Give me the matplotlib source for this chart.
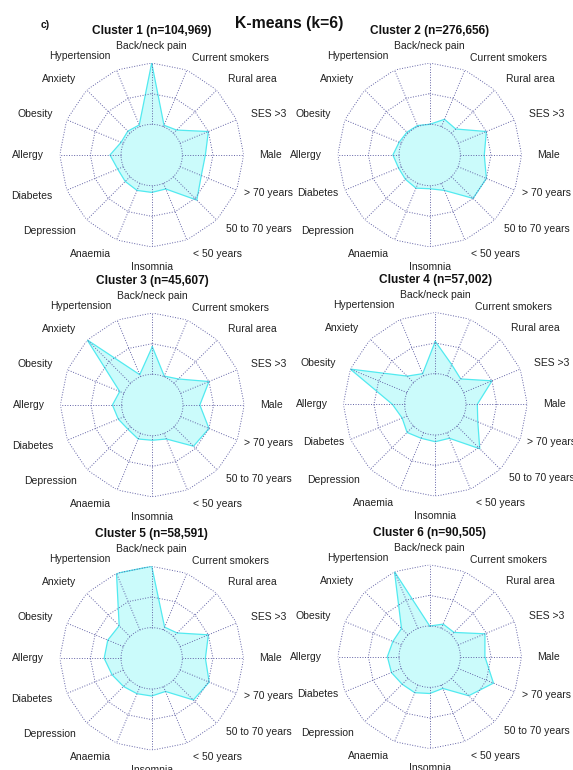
import numpy as np
import matplotlib
matplotlib.use("Agg")
import matplotlib.pyplot as plt

plt.rcParams['font.family'] = ['Liberation Sans', 'DejaVu Sans']

categories = ["Back/neck pain", "Current smokers", "Rural area", "SES >3", "Male",
              "> 70 years", "50 to 70 years", "< 50 years", "Insomnia", "Anaemia",
              "Depression", "Diabetes", "Allergy", "Obesity", "Anxiety", "Hypertension"]

cluster_titles = ["Cluster 1 (n=104,969)", "Cluster 2 (n=276,656)", "Cluster 3 (n=45,607)",
                  "Cluster 4 (n=57,002)", "Cluster 5 (n=58,591)", "Cluster 6 (n=90,505)"]

cluster1 = [3.0, 1.05, 1.15, 2.0, 1.75, 1.75, 2.08, 1.2, 1.22, 1.25, 1.22, 1.2, 1.36, 1.08, 1.1, 1.06]
cluster2 = [1.0, 1.26, 1.2, 2.0, 1.78, 2.0, 2.0, 1.25, 1.1, 1.17, 1.12, 1.1, 1.2, 1.08, 1.05, 1.04]
cluster3 = [1.9, 1.02, 1.2, 2.0, 1.55, 2.0, 1.9, 1.2, 1.15, 1.2, 1.12, 1.2, 1.3, 1.15, 3.0, 1.07]
cluster4 = [2.05, 1.4, 1.17, 2.0, 1.37, 1.5, 2.05, 1.2, 1.22, 1.2, 1.3, 1.17, 1.4, 3.0, 1.3, 1.08]
cluster5 = [3.0, 1.1, 1.17, 2.0, 1.75, 2.03, 1.92, 1.17, 1.23, 1.25, 1.3, 1.4, 1.55, 1.55, 1.5, 3.0]
cluster6 = [1.0, 1.15, 1.12, 1.95, 1.8, 2.25, 1.8, 1.12, 1.2, 1.27, 1.27, 1.35, 1.38, 1.3, 1.3, 3.0]
clusters = [cluster1, cluster2, cluster3, cluster4, cluster5, cluster6]

W, H = 573, 770
fig = plt.figure(figsize=(W / 100, H / 100), dpi=100)

# centres (px from top-left) and outer radius in px
centres = [(151.7, 155), (429.7, 155), (152.3, 405), (435.3, 404.3), (151.7, 658.3), (429.7, 656.7)]
R = 92

FILL = '#cbfbfb'
EDGE = '#52eaf0'
GRID = '#6262a6'

# label radial placement (in ring units; outer ring = 3)
label_r = {"Back/neck pain": 3.55, "Insomnia": 3.64, "> 70 years": 3.25,
           "Current smokers": 3.42, "50 to 70 years": 3.42}

n = len(categories)
theta = np.arange(n) * 2 * np.pi / n
theta_c = np.append(theta, theta[0])

for idx, ((cx, cy), vals, title) in enumerate(zip(centres, clusters, cluster_titles)):
    right_col = idx % 2 == 1
    ax = fig.add_axes([(cx - R) / W, 1 - (cy + R) / H, 2 * R / W, 2 * R / H], projection='polar')
    ax.set_theta_zero_location('N')
    ax.set_theta_direction(-1)
    ax.set_ylim(0, 3)
    ax.set_axis_off()

    # hole fill
    tt = np.linspace(0, 2 * np.pi, 300)
    ax.fill_between(tt, 0, 1, color=FILL, lw=0, zorder=1)
    v = np.append(vals, vals[0])
    ax.fill(theta_c, v, color=FILL, lw=0, zorder=1)
    ax.plot(theta_c, v, color=EDGE, lw=0.9, zorder=2)

    # grid
    ax.plot(tt, np.ones_like(tt), color=GRID, lw=0.7, ls=':', zorder=3)
    for lvl in (2, 3):
        ax.plot(theta_c, np.full_like(theta_c, lvl), color=GRID, lw=0.7, ls=':', zorder=3)
    for t in theta:
        ax.plot([t, t], [1, 3], color=GRID, lw=0.7, ls=':', zorder=3)

    # labels
    for t, lab in zip(theta, categories):
        s = np.sin(t)
        if abs(s) < 1e-6:
            ha = 'center'
        elif s > 0:
            ha = 'left'
        else:
            ha = 'right'
        r = label_r.get(lab, 3.5)
        if lab == "Diabetes" and right_col:
            r = 3.22
        ax.text(t, r, lab, ha=ha, va='center', fontsize=7.5, color='#222222', clip_on=False)

    fig.text(cx / W, 1 - (cy - 124) / H, title, ha='center', va='center',
             fontsize=8.6, fontweight='bold', color='#111111')

fig.text(288.8 / W, 1 - 23.3 / H, "K-means (k=6)", ha='center', va='center',
         fontsize=11.3, fontweight='bold', color='#111111')
fig.text(45 / W, 1 - 25 / H, "c)", ha='center', va='center', fontsize=7.5,
         fontweight='bold', color='#111111')

fig.savefig('out.png', dpi=100, facecolor='white')
